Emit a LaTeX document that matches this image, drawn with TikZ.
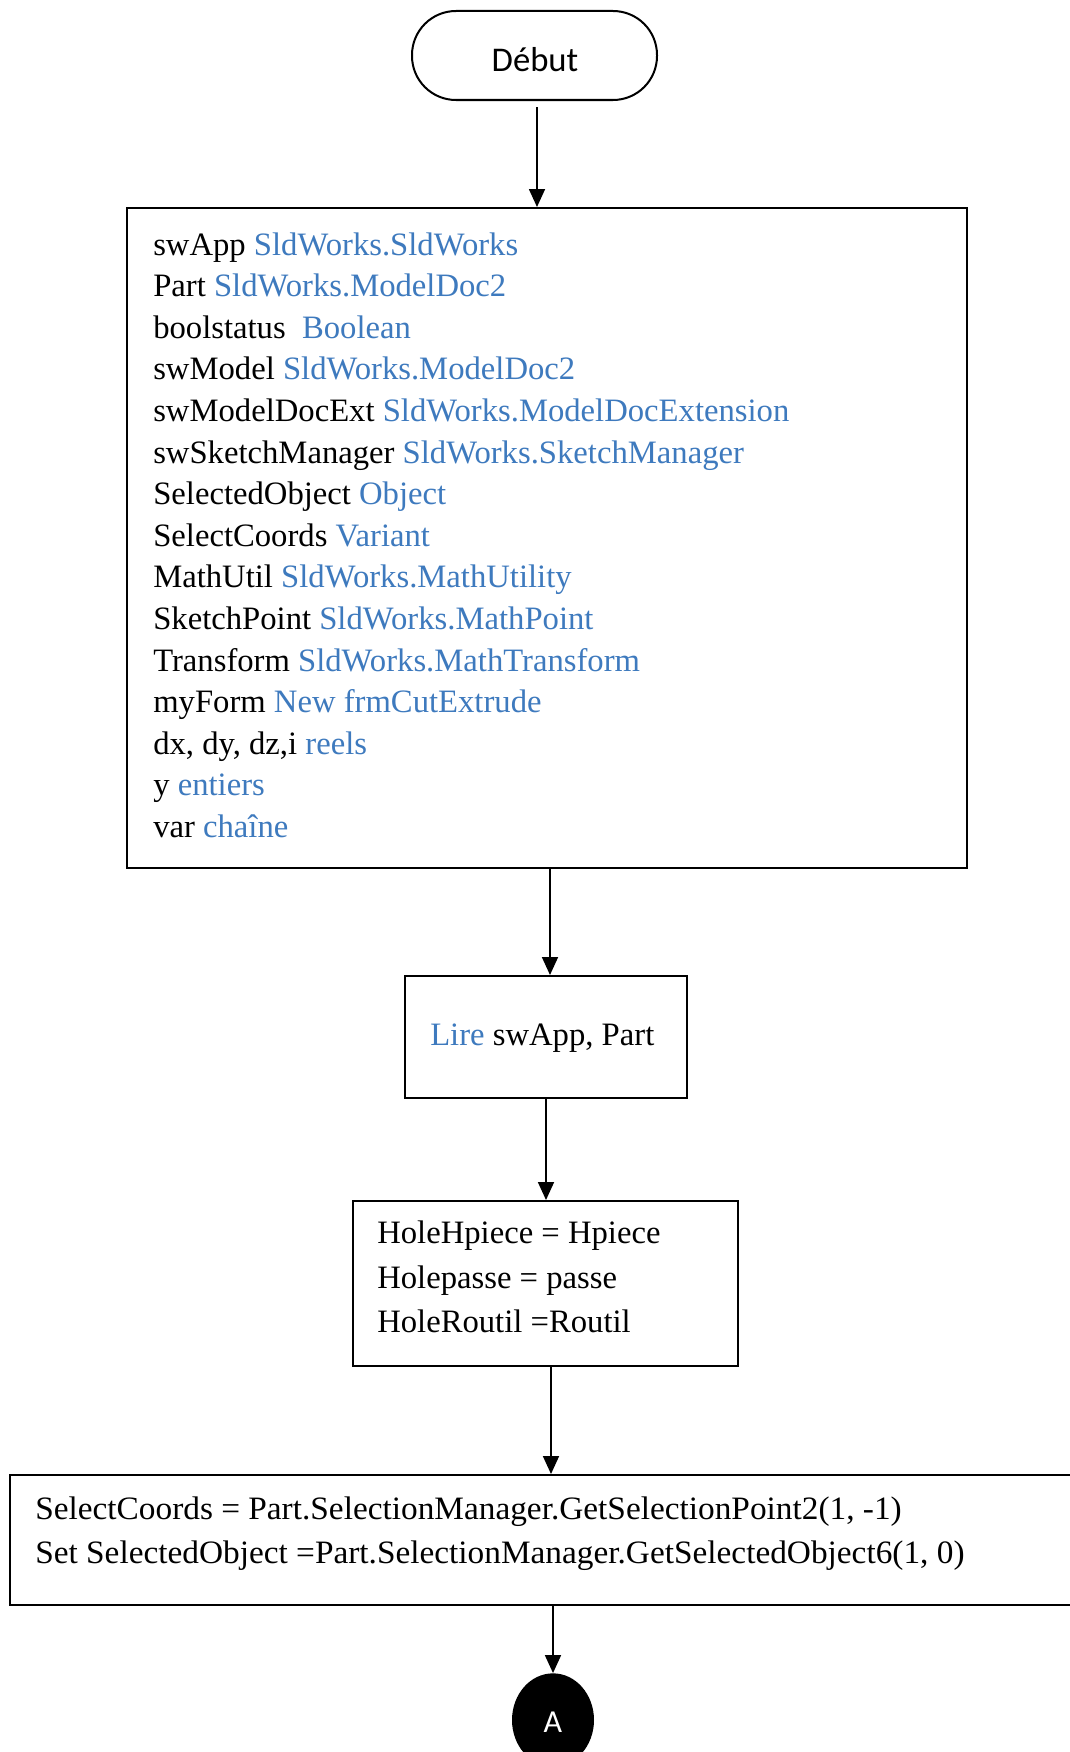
\documentclass[tikz,border=0pt]{standalone}
\usepackage{fontspec}
\setmainfont{Liberation Serif}
\newfontfamily\uifont{Carlito}
\usetikzlibrary{arrows.meta,fit,shapes.geometric}
\definecolor{kw}{RGB}{62,122,190}
\newcommand{\kw}[1]{\textcolor{kw}{#1}}
\begin{document}
\begin{tikzpicture}[x=0.75pt,y=-0.75pt,
  box/.style={draw, line width=1.5pt, inner sep=0pt},
  ln/.style={anchor=base west, inner sep=0pt, font=\fontsize{24.5}{29}\selectfont},
  flow/.style={line width=1.3pt, -{Triangle[width=12pt,length=13.5pt]}}]
\fill[white] (0,0) rectangle (1070,1752);
\useasboundingbox (0,0) rectangle (1070,1752);

% start terminal
\node[box, fit={(412,11) (657,100)}, rounded corners=33pt] (debut) {};
\node[anchor=base, inner sep=0pt, font=\uifont\fontsize{26}{30}\selectfont] (tdebut) at (535,72) {Début};

% declarations
\node[box, fit={(127,208) (967,868)}] (decl) {};
\node[ln] (d1)  at (153,255)   {swApp \kw{SldWorks.SldWorks}};
\node[ln] (d2)  at (153,296.6) {Part \kw{SldWorks.ModelDoc2}};
\node[ln] (d3)  at (153,338.2) {boolstatus \ \kw{Boolean}};
\node[ln] (d4)  at (153,379.8) {swModel \kw{SldWorks.ModelDoc2}};
\node[ln] (d5)  at (153,421.4) {swModelDocExt \kw{SldWorks.ModelDocExtension}};
\node[ln] (d6)  at (153,463)   {swSketchManager \kw{SldWorks.SketchManager}};
\node[ln] (d7)  at (153,504.6) {SelectedObject \kw{Object}};
\node[ln] (d8)  at (153,546.2) {SelectCoords \kw{Variant}};
\node[ln] (d9)  at (153,587.8) {MathUtil \kw{SldWorks.MathUtility}};
\node[ln] (d10) at (153,629.4) {SketchPoint \kw{SldWorks.MathPoint}};
\node[ln] (d11) at (153,671)   {Transform \kw{SldWorks.MathTransform}};
\node[ln] (d12) at (153,712.6) {myForm \kw{New frmCutExtrude}};
\node[ln] (d13) at (153,754.2) {dx, dy, dz,i \kw{reels}};
\node[ln] (d14) at (153,795.8) {y \kw{entiers}};
\node[ln] (d15) at (153,837.4) {var \kw{chaîne}};

% input
\node[box, fit={(405,976) (687,1098)}] (lire) {};
\node[ln] (tlire) at (430,1045) {\kw{Lire} swApp, Part};

% assignments
\node[box, fit={(353,1201) (738,1366)}] (hole) {};
\node[ln] (h1) at (377,1243) {HoleHpiece = Hpiece};
\node[ln] (h2) at (377,1288) {Holepasse = passe};
\node[ln] (h3) at (377,1332) {HoleRoutil =Routil};

% selection
\node[box, fit={(10,1475) (1090,1605)}] (sel) {};
\node[ln, xscale=1.02] (s1) at (35,1519) {SelectCoords = Part.SelectionManager.GetSelectionPoint2(1, -1)};
\node[ln, xscale=1.02] (s2) at (35,1563) {Set SelectedObject =Part.SelectionManager.GetSelectedObject6(1, 0)};

% connector
\node[ellipse, fill=black, inner sep=0pt, minimum width=61.5pt, minimum height=70pt] (conA) at (553,1720) {};
\node[text=white, inner sep=0pt, font=\uifont\fontsize{24}{28}\selectfont] (tA) at (553,1722) {A};

% flow
\draw[flow] ([yshift=-4.5pt]debut.south -| 537,0) -- (decl.north -| 537,0);
\draw[flow] (decl.south -| 550,0) -- (lire.north -| 550,0);
\draw[flow] (lire.south -| 546,0) -- (hole.north -| 546,0);
\draw[flow] (hole.south -| 551,0) -- (sel.north -| 551,0);
\draw[flow] (sel.south -| conA.north) -- (conA.north);
\end{tikzpicture}
\end{document}
